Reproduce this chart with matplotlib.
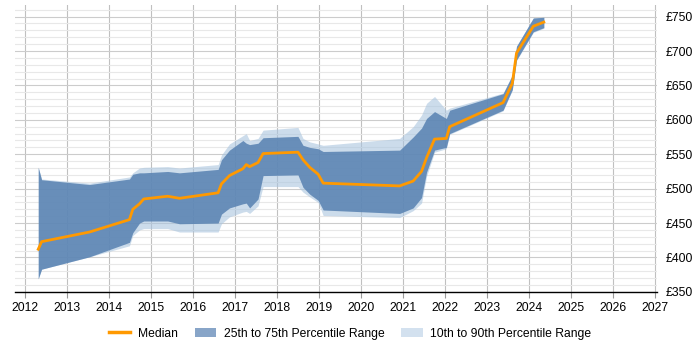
import numpy as np
import matplotlib
matplotlib.use("Agg")
import matplotlib.pyplot as plt
from matplotlib.patches import Patch
from matplotlib.lines import Line2D

plt.rcParams['font.family'] = ['Liberation Sans', 'DejaVu Sans']

years = [2012.32, 2012.4, 2013.54, 2014.49, 2014.57, 2014.73, 2014.83, 2015.4, 2015.68,
         2016.6, 2016.68, 2016.87, 2017.19, 2017.27, 2017.35, 2017.55, 2017.67, 2018.5,
         2018.62, 2018.78, 2018.98, 2019.1, 2020.92, 2021.24, 2021.44, 2021.56, 2021.75,
         2022.03, 2022.11, 2023.38, 2023.6, 2023.7, 2024.1, 2024.35]

median = [412, 423, 437, 455, 470, 478, 485, 489, 486,
          494, 507, 519, 529, 535, 532, 538, 551, 553,
          542, 531, 521, 508, 504, 511, 525, 545, 572,
          573, 590, 625, 653, 697, 736, 742]

p75 = [531, 513, 506, 514, 521, 523, 523, 525, 523,
       528, 542, 556, 570, 566, 564, 566, 574, 576,
       563, 560, 558, 554, 556, 575, 588, 602, 612,
       602, 614, 638, 665, 707, 748, 749]

p25 = [369, 383, 401, 422, 436, 450, 453, 453, 449,
       450, 463, 472, 478, 479, 472, 485, 519, 520,
       502, 492, 483, 469, 464, 472, 487, 524, 556,
       560, 580, 614, 644, 687, 728, 734]

p90 = [531, 514, 508, 517, 523, 530, 531, 532, 530,
       535, 549, 565, 577, 580, 570, 573, 585, 589,
       573, 568, 565, 563, 573, 590, 607, 624, 634,
       614, 617, 639, 665, 707, 748, 749]

p10 = [369, 383, 401, 417, 432, 440, 442, 442, 437,
       437, 449, 459, 466, 467, 464, 475, 503, 503,
       495, 488, 480, 461, 458, 468, 479, 518, 553,
       558, 579, 613, 643, 686, 727, 733]

x_ticks = list(range(2012, 2028))
y_ticks = [350, 400, 450, 500, 550, 600, 650, 700, 750]

dark = '#5781b1'
light = '#aac5df'
orange = '#ff9900'

fig = plt.figure(figsize=(7, 3.5), dpi=100)
ax = fig.add_axes([0.021, 0.166, 0.918, 0.82])

# semi-transparent bands so the grid shows through
ax.fill_between(years, p10, p90, color=light, alpha=0.6, lw=0, zorder=2)
ax.fill_between(years, p25, p75, color=dark, alpha=0.85, lw=0, zorder=3)
ax.plot(years, median, color=orange, lw=2, zorder=5)

ax.set_xlim(2011.76, 2027.05)
ax.set_ylim(350, 767)
ax.set_xticks(x_ticks)
ax.set_yticks(y_ticks)
ax.set_yticklabels([f"£{v}" for v in y_ticks])
ax.set_yticks(np.arange(350, 761, 10), minor=True)

ax.yaxis.tick_right()
ax.tick_params(axis='y', which='both', length=0, labelsize=8.7, pad=6)
ax.tick_params(axis='x', length=4, color='#999999', labelsize=8.7)

ax.grid(axis='x', color='#c0c0c0', lw=0.8, zorder=0)
ax.grid(axis='y', which='major', color='#cccccc', lw=0.8, zorder=0)
ax.grid(axis='y', which='minor', color='#e8e8e8', lw=0.8, zorder=0)

for s in ['top', 'right', 'left']:
    ax.spines[s].set_visible(False)
ax.spines['bottom'].set_color('#000000')
ax.spines['bottom'].set_linewidth(1)
ax.spines['bottom'].set_zorder(6)

handles = [Line2D([0], [0], color=orange, lw=2.5),
           Patch(facecolor='#88a5c8', edgecolor='none'),
           Patch(facecolor='#d3e1ef', edgecolor='none')]
labels = ["Median", "25th to 75th Percentile Range", "10th to 90th Percentile Range"]
fig.legend(handles, labels, loc='center', bbox_to_anchor=(0.5, 0.047), ncol=3,
           frameon=False, fontsize=8.7, handlelength=1.8, handletextpad=0.6,
           columnspacing=1.4)

fig.savefig("out.png", dpi=100)
